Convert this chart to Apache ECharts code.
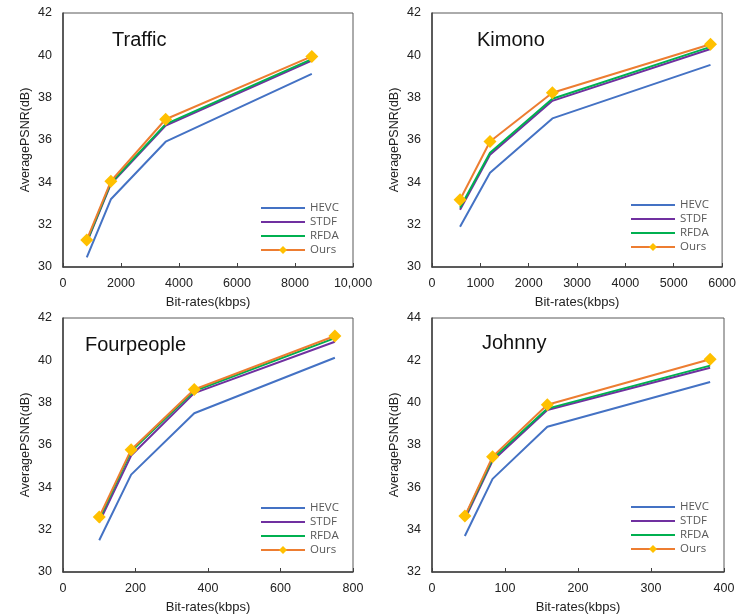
<!DOCTYPE html>
<html>
<head>
<meta charset="utf-8">
<script src="https://cdn.jsdelivr.net/npm/echarts@6/dist/echarts.min.js"></script>
<style>html,body{margin:0;padding:0;background:#fff;}#c{width:739px;height:615px;}</style>
</head>
<body>
<div id="c"></div>
<script>
// ---- data ----
const panelTitles = ['Traffic', 'Kimono', 'Fourpeople', 'Johnny'];
const methods = ['HEVC', 'STDF', 'RFDA', 'Ours'];

const trafficX = [820, 1650, 3540, 8580];
const trafficHEVC = [30.45, 33.2, 35.92, 39.12];
const trafficSTDF = [31.15, 33.92, 36.68, 39.75];
const trafficRFDA = [31.2, 33.97, 36.75, 39.82];
const trafficOurs = [31.28, 34.05, 36.98, 39.95];

const kimonoX = [580, 1200, 2490, 5760];
const kimonoHEVC = [31.9, 34.45, 37.02, 39.55];
const kimonoSTDF = [32.7, 35.3, 37.85, 40.3];
const kimonoRFDA = [32.8, 35.4, 37.95, 40.4];
const kimonoOurs = [33.18, 35.93, 38.23, 40.52];

const fourpeopleX = [100, 188, 362, 750];
const fourpeopleHEVC = [31.5, 34.6, 37.5, 40.12];
const fourpeopleSTDF = [32.35, 35.5, 38.45, 40.88];
const fourpeopleRFDA = [32.5, 35.7, 38.55, 41.05];
const fourpeopleOurs = [32.6, 35.78, 38.62, 41.15];

const johnnyX = [45, 83, 158, 381];
const johnnyHEVC = [33.7, 36.4, 38.86, 40.98];
const johnnySTDF = [34.5, 37.25, 39.65, 41.65];
const johnnyRFDA = [34.6, 37.35, 39.72, 41.75];
const johnnyOurs = [34.64, 37.45, 39.9, 42.05];

const xMax = [10000, 6000, 800, 400];
const xInterval = [2000, 1000, 200, 100];
const yMin = [30, 30, 30, 32];
const yMax = [42, 42, 42, 44];

const panelX = [trafficX, kimonoX, fourpeopleX, johnnyX];
const panelY = [
  [trafficHEVC, trafficSTDF, trafficRFDA, trafficOurs],
  [kimonoHEVC, kimonoSTDF, kimonoRFDA, kimonoOurs],
  [fourpeopleHEVC, fourpeopleSTDF, fourpeopleRFDA, fourpeopleOurs],
  [johnnyHEVC, johnnySTDF, johnnyRFDA, johnnyOurs]
];

// ---- layout/style ----
const grids = [
  {left: 63, top: 13, width: 290, height: 254},
  {left: 432, top: 13, width: 293, height: 254},
  {left: 63, top: 318, width: 290, height: 255},
  {left: 432, top: 318, width: 292, height: 255}
];
const titlePos = [[112, 30], [477, 30], [85, 335], [482, 333]];
const legendPos = [[260, 201], [630, 198], [260, 501], [630, 500]];
const lineColors = ['#4472C4', '#7030A0', '#00B050', '#ED7D31'];
const axisColor = '#404040';
const fontF = 'Liberation Sans, Arial, sans-serif';

function fmt(v) {
  return v >= 10000 ? String(v).replace(/\B(?=(\d{3})+(?!\d))/g, ',') : String(v);
}

const legendData = methods.map(m => m === 'Ours' ? {name: m} : {name: m, itemStyle: {opacity: 0}});

const option = {
  animation: false,
  backgroundColor: '#fff',
  title: panelTitles.map((t, i) => ({
    text: t, left: titlePos[i][0], top: titlePos[i][1], padding: 0,
    textStyle: {fontFamily: fontF, fontSize: 20, fontWeight: 'normal', color: '#111'}
  })),
  legend: legendPos.map(p => ({
    data: legendData, orient: 'vertical', left: p[0], top: p[1], padding: 0,
    itemWidth: 44, itemHeight: 10, itemGap: 0,
    textStyle: {fontFamily: 'Open Sans, sans-serif', fontSize: 11.5, lineHeight: 14, color: '#595959'}
  })),
  grid: grids.map(g => Object.assign({show: true, borderColor: '#595959', borderWidth: 1, containLabel: false}, g)),
  xAxis: grids.map((g, i) => ({
    type: 'value', gridIndex: i, min: 0, max: xMax[i], interval: xInterval[i],
    name: 'Bit-rates(kbps)', nameLocation: 'middle', nameGap: 29,
    nameTextStyle: {fontFamily: fontF, fontSize: 13, color: '#222'},
    axisLine: {show: true, lineStyle: {color: axisColor, width: 1.5}},
    axisTick: {show: true, inside: true, length: 4, lineStyle: {color: axisColor}},
    axisLabel: {fontFamily: fontF, fontSize: 12.5, color: '#222', margin: 10, formatter: fmt, showMaxLabel: true},
    splitLine: {show: false}
  })),
  yAxis: grids.map((g, i) => ({
    type: 'value', gridIndex: i, min: yMin[i], max: yMax[i], interval: 2,
    name: 'AveragePSNR(dB)', nameLocation: 'middle', nameGap: 31, nameRotate: 90,
    nameTextStyle: {fontFamily: fontF, fontSize: 12.5, color: '#222'},
    axisLine: {show: true, lineStyle: {color: axisColor, width: 1.5}},
    axisTick: {show: false},
    axisLabel: {fontFamily: fontF, fontSize: 12.5, color: '#222', margin: 11},
    splitLine: {show: false}
  })),
  series: []
};

for (let p = 0; p < 4; p++) {
  methods.forEach((m, k) => {
    const isOurs = m === 'Ours';
    option.series.push({
      type: 'line', name: m, xAxisIndex: p, yAxisIndex: p,
      data: panelX[p].map((x, j) => [x, panelY[p][k][j]]),
      symbol: isOurs ? 'diamond' : 'none',
      symbolSize: isOurs ? 13 : 0,
      showSymbol: isOurs,
      lineStyle: {color: lineColors[k], width: 2},
      itemStyle: {color: isOurs ? '#FFC000' : lineColors[k]},
      z: 2 + k
    });
  });
}

const chart = echarts.init(document.getElementById('c'), null, {renderer: 'canvas'});
chart.setOption(option);
</script>
</body>
</html>
